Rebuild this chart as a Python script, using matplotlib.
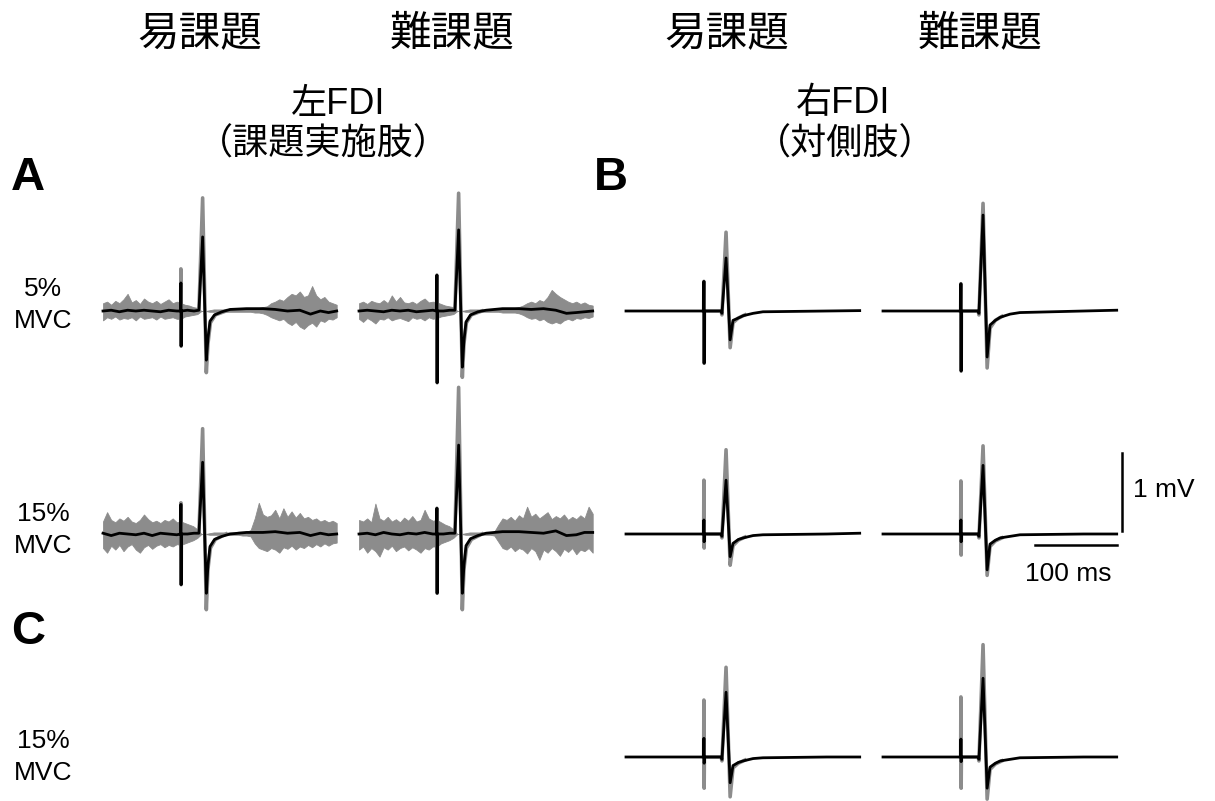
import numpy as np
import matplotlib.pyplot as plt

plt.rcParams['font.family'] = ['Liberation Sans', 'Noto Sans CJK JP']

# time axis of every sweep (ms, stimulus at 0)
T0, T1 = -95, 190
noise_t = np.arange(-95, 191, 5)

# ---- panel A: left FDI (mV), black = mean, grey = single trials ----
a_mean_t = [-95, -85, -75, -65, -55, -45, -35, -25, -15, -5, -0.3, 0, 0.3, 0.6, 8, 16, 22,
            26.5, 31, 33, 35.5, 41, 50, 60, 80, 100, 115, 130, 145, 158, 170, 180, 190]
a5e_mean = [0, 0.01, -0.01, 0.01, 0, 0.01, 0, -0.01, 0.01, 0, 0, 0.36, -0.45, 0, 0.01, 0, 0.01,
            0.95, -0.63, -0.35, -0.13, -0.05, -0.01, 0.02, 0.03, 0.03, 0.02, 0, 0.01, -0.04, 0, -0.02, 0]
a5h_mean = [0, 0.01, 0, -0.01, 0.01, 0, 0.01, -0.01, 0, 0.01, 0, 0.46, -0.92, 0, 0, 0.01, 0.01,
            1.04, -0.72, -0.38, -0.14, -0.05, -0.01, 0.01, 0.03, 0.03, 0.02, 0.03, 0.01, -0.03, -0.02, -0.01, 0]
a15e_mean = [0.01, -0.02, 0.01, 0, -0.01, 0.01, -0.02, 0.01, 0, -0.01, 0, 0.38, -0.65, 0, 0, 0.01, 0.01,
             0.92, -0.76, -0.40, -0.16, -0.07, -0.03, 0, 0.02, 0.02, 0.03, 0.01, 0.02, -0.02, 0.01, -0.01, 0]
a15h_mean = [0, 0.01, -0.01, 0.02, 0, -0.01, 0.01, 0, 0.02, 0, 0, 0.33, -0.76, 0, 0, 0.01, 0.01,
             1.14, -0.76, -0.40, -0.15, -0.06, -0.02, 0.01, 0.03, 0.03, 0.02, 0.01, 0.04, -0.02, -0.01, 0.02, 0.02]

a_gray_t = [-0.3, 0, 0.3, 0.6, 20, 22, 26.5, 31, 33, 36, 42, 55]
a5e_gray = [0, 0.54, -0.45, 0, 0, 0.02, 1.45, -0.79, -0.42, -0.15, -0.05, 0]
a5h_gray = [0, 0.46, -0.92, 0, 0, 0.02, 1.51, -0.85, -0.42, -0.15, -0.05, 0]
a15e_gray = [0, 0.40, -0.65, 0, 0, 0.02, 1.35, -0.97, -0.45, -0.18, -0.07, 0]
a15h_gray = [0, 0.33, -0.76, 0, 0, 0.02, 1.88, -0.97, -0.45, -0.18, -0.07, 0]

# upper / lower edge of the grey trial band (background EMG), on noise_t
a5e_up = [0.10, 0.12, 0.08, 0.13, 0.10, 0.15, 0.22, 0.11, 0.14, 0.09, 0.16, 0.12, 0.10, 0.13, 0.09, 0.12, 0.15, 0.10, 0.12,
          0.10, 0.08, 0.07, 0.05, 0.04,
          0, 0, 0.01, 0.02, 0.02, 0.02, 0.02, 0.02, 0.02, 0.03, 0.03, 0.03, 0.03, 0.04, 0.04, 0.05,
          0.06, 0.10, 0.12, 0.15, 0.13, 0.18, 0.22, 0.20, 0.25, 0.18, 0.20, 0.32, 0.20, 0.15, 0.18, 0.12, 0.10, 0.08]
a5e_lo = [-0.12, -0.08, -0.10, -0.07, -0.11, -0.09, -0.10, -0.08, -0.12, -0.07, -0.10, -0.09, -0.08, -0.11, -0.07, -0.10, -0.09, -0.08, -0.10,
          -0.10, -0.07, -0.06, -0.05, -0.04,
          0, 0, -0.01, -0.01, -0.01, -0.01, -0.01, -0.01, -0.01, -0.01, -0.01, -0.01, -0.01, -0.02, -0.02, -0.03,
          -0.05, -0.08, -0.10, -0.12, -0.10, -0.15, -0.18, -0.14, -0.20, -0.23, -0.18, -0.15, -0.20, -0.12, -0.14, -0.10, -0.11, -0.08]
a5h_up = [0.10, 0.12, 0.09, 0.13, 0.11, 0.10, 0.14, 0.10, 0.20, 0.12, 0.18, 0.11, 0.10, 0.12, 0.09, 0.13, 0.16, 0.11, 0.12,
          0.11, 0.09, 0.07, 0.06, 0.05,
          0, 0, 0.01, 0.02, 0.02, 0.02, 0.02, 0.02, 0.02, 0.02, 0.03, 0.03, 0.03, 0.03, 0.04, 0.05,
          0.07, 0.10, 0.12, 0.10, 0.14, 0.12, 0.18, 0.27, 0.22, 0.18, 0.15, 0.12, 0.10, 0.12, 0.09, 0.11, 0.08, 0.07]
a5h_lo = [-0.10, -0.14, -0.09, -0.12, -0.16, -0.10, -0.11, -0.08, -0.12, -0.10, -0.09, -0.11, -0.13, -0.08, -0.10, -0.09, -0.12, -0.08, -0.10,
          -0.09, -0.07, -0.06, -0.05, -0.04,
          0, 0, -0.01, -0.01, -0.01, -0.01, -0.01, -0.01, -0.01, -0.01, -0.01, -0.02, -0.02, -0.02, -0.02, -0.03,
          -0.05, -0.08, -0.10, -0.09, -0.12, -0.10, -0.14, -0.16, -0.14, -0.16, -0.12, -0.10, -0.12, -0.09, -0.10, -0.08, -0.09, -0.07]
a15e_up = [0.16, 0.28, 0.18, 0.15, 0.20, 0.17, 0.22, 0.16, 0.14, 0.18, 0.25, 0.19, 0.15, 0.17, 0.14, 0.18, 0.16, 0.20, 0.15,
           0.16, 0.14, 0.12, 0.10, 0.06,
           0, 0, 0.01, 0.02, 0.02, 0.02, 0.02, 0.02, 0.02, 0.03, 0.03, 0.03, 0.05, 0.20, 0.40, 0.25,
           0.22, 0.24, 0.31, 0.20, 0.33, 0.22, 0.29, 0.21, 0.27, 0.20, 0.22, 0.18, 0.20, 0.16, 0.18, 0.15, 0.17, 0.14]
a15e_lo = [-0.18, -0.24, -0.15, -0.20, -0.14, -0.22, -0.16, -0.13, -0.20, -0.24, -0.17, -0.14, -0.19, -0.15, -0.13, -0.17, -0.14, -0.16, -0.13,
           -0.14, -0.12, -0.10, -0.08, -0.05,
           0, 0, -0.01, -0.01, -0.01, -0.01, -0.01, -0.01, -0.01, -0.01, -0.02, -0.02, -0.03, -0.12, -0.18, -0.20,
           -0.22, -0.18, -0.20, -0.24, -0.17, -0.19, -0.15, -0.20, -0.16, -0.18, -0.14, -0.17, -0.13, -0.16, -0.12, -0.15, -0.12, -0.11]
a15h_up = [0.18, 0.16, 0.20, 0.15, 0.39, 0.20, 0.17, 0.22, 0.16, 0.19, 0.15, 0.21, 0.17, 0.23, 0.16, 0.18, 0.31, 0.20, 0.17,
           0.18, 0.15, 0.12, 0.10, 0.06,
           0, 0, 0.01, 0.02, 0.02, 0.02, 0.02, 0.02, 0.02, 0.03, 0.12, 0.20, 0.18, 0.22, 0.17, 0.24,
           0.20, 0.35, 0.22, 0.26, 0.20, 0.24, 0.28, 0.19, 0.23, 0.20, 0.25, 0.18, 0.22, 0.19, 0.24, 0.20, 0.35, 0.26]
a15h_lo = [-0.20, -0.16, -0.24, -0.18, -0.22, -0.29, -0.17, -0.20, -0.15, -0.22, -0.18, -0.16, -0.21, -0.17, -0.20, -0.24, -0.18, -0.20, -0.16,
           -0.16, -0.12, -0.10, -0.08, -0.05,
           0, 0, -0.01, -0.01, -0.01, -0.01, -0.01, -0.01, -0.01, -0.02, -0.10, -0.18, -0.20, -0.16, -0.22, -0.18,
           -0.20, -0.25, -0.18, -0.22, -0.33, -0.20, -0.24, -0.18, -0.22, -0.28, -0.19, -0.23, -0.18, -0.26, -0.20, -0.22, -0.18, -0.24]

# ---- panels B and C: right FDI (mV) ----
bc_mean_t = [-95, -0.3, 0, 0.3, 0.6, 21, 22, 27, 32, 35.5, 42, 48, 60, 72, 150, 190]
b5e_mean = [0, 0, 0.38, -0.67, 0, 0, -0.03, 0.68, -0.37, -0.12, -0.09, -0.06, -0.03, -0.01, 0, 0.005]
b5h_mean = [0, 0, 0.35, -0.77, 0, 0, -0.03, 1.23, -0.59, -0.18, -0.12, -0.08, -0.04, -0.02, 0, 0.01]
b15e_mean = [0, 0, 0.18, -0.10, 0, 0, -0.03, 0.69, -0.29, -0.12, -0.07, -0.05, -0.02, -0.01, 0, 0.01]
b15h_mean = [0, 0, 0.18, -0.10, 0, 0, -0.03, 0.88, -0.46, -0.13, -0.08, -0.05, -0.03, -0.01, 0, 0]
c15e_mean = [0, 0, 0.24, -0.08, 0, 0, -0.03, 0.83, -0.33, -0.11, -0.07, -0.05, -0.02, -0.01, 0, 0]
c15h_mean = [0, 0, 0.23, -0.06, 0, 0, -0.03, 1.01, -0.40, -0.13, -0.08, -0.05, -0.03, -0.01, 0, 0]

bc_gray_t = [-0.3, 0, 0.3, 0.6, 21, 22, 27, 32, 35.5, 42, 50]
b5e_gray = [0, 0.38, -0.67, 0, 0, -0.05, 1.01, -0.47, -0.15, -0.09, -0.05]
b5h_gray = [0, 0.35, -0.77, 0, 0, -0.05, 1.38, -0.73, -0.22, -0.12, -0.07]
b15e_gray = [0, 0.69, -0.18, 0, 0, -0.05, 1.08, -0.40, -0.15, -0.08, -0.04]
b15h_gray = [0, 0.68, -0.27, 0, 0, -0.05, 1.13, -0.53, -0.16, -0.09, -0.05]
c15e_gray = [0, 0.73, -0.40, 0, 0, -0.05, 1.15, -0.51, -0.14, -0.08, -0.04]
c15h_gray = [0, 0.77, -0.40, 0, 0, -0.05, 1.44, -0.54, -0.16, -0.09, -0.05]

conditions = ['易課題', '難課題', '易課題', '難課題']
force_labels = ['5%\nMVC', '15%\nMVC', '15%\nMVC']

# layout (pixels of the 1215x801 figure)
W, H = 1215, 801
PX_MS = 0.82
PX_MV = 78.0
col_x = [103, 359, 626, 883]
row_y = [311, 534, 757]

fig = plt.figure(figsize=(12.15, 8.01), dpi=100)


def trace_axes(x0, base):
    above, below = 175, 110
    w = (T1 - T0) * PX_MS
    ax = fig.add_axes([x0 / W, 1 - (base + below) / H, w / W, (above + below) / H])
    ax.set_xlim(T0, T1)
    ax.set_ylim(-below / PX_MV, above / PX_MV)
    ax.axis('off')
    return ax


def draw(ax, mt, mv, gt, gv, up=None, lo=None):
    if up is not None:
        ax.fill_between(noise_t, up, lo, color='#8c8c8c', lw=0.6, clip_on=False, zorder=1)
    ax.plot(gt, gv, color='#8c8c8c', lw=2.6, clip_on=False, zorder=2)
    ax.plot(mt, mv, color='black', lw=2.0, clip_on=False, zorder=3)


sweeps = [
    (0, 0, a_mean_t, a5e_mean, a_gray_t, a5e_gray, a5e_up, a5e_lo),
    (1, 0, a_mean_t, a5h_mean, a_gray_t, a5h_gray, a5h_up, a5h_lo),
    (0, 1, a_mean_t, a15e_mean, a_gray_t, a15e_gray, a15e_up, a15e_lo),
    (1, 1, a_mean_t, a15h_mean, a_gray_t, a15h_gray, a15h_up, a15h_lo),
    (2, 0, bc_mean_t, b5e_mean, bc_gray_t, b5e_gray, None, None),
    (3, 0, bc_mean_t, b5h_mean, bc_gray_t, b5h_gray, None, None),
    (2, 1, bc_mean_t, b15e_mean, bc_gray_t, b15e_gray, None, None),
    (3, 1, bc_mean_t, b15h_mean, bc_gray_t, b15h_gray, None, None),
    (2, 2, bc_mean_t, c15e_mean, bc_gray_t, c15e_gray, None, None),
    (3, 2, bc_mean_t, c15h_mean, bc_gray_t, c15h_gray, None, None),
]

axes = {}
for c, r, mt, mv, gt, gv, up, lo in sweeps:
    ax = trace_axes(col_x[c], row_y[r])
    draw(ax, mt, mv, gt, gv, up, lo)
    axes[(c, r)] = ax

# scale bars: 100 ms, 1 mV
sb = axes[(3, 1)]
sb.plot([90, 190], [-0.14, -0.14], color='black', lw=1.8, clip_on=False)
sb.plot([196, 196], [0.04, 1.04], color='black', lw=1.8, clip_on=False)
fig.text(1133 / W, 1 - 490 / H, '1 mV', fontsize=19, ha='left', va='center')
fig.text(1068 / W, 1 - 574 / H, '100 ms', fontsize=19, ha='center', va='center')

# headings
for x, lab in zip([200, 452, 727, 980], conditions):
    fig.text(x / W, 1 - 35 / H, lab, fontsize=30, ha='center', va='center')
fig.text(338 / W, 1 - 104 / H, '左FDI', fontsize=26, ha='center', va='center')
fig.text(323 / W, 1 - 145 / H, '（課題実施肢）', fontsize=26, ha='center', va='center')
fig.text(843 / W, 1 - 104 / H, '右FDI', fontsize=26, ha='center', va='center')
fig.text(845 / W, 1 - 145 / H, '（対側肢）', fontsize=26, ha='center', va='center')

for x, y, lab in [(28, 178, 'A'), (611, 178, 'B'), (28, 632, 'C')]:
    fig.text(x / W, 1 - y / H, lab, fontsize=34, fontweight='bold', ha='center', va='center')

for y, lab in zip([305, 530, 757], force_labels):
    fig.text(43 / W, 1 - y / H, lab, fontsize=19, ha='center', va='center', linespacing=1.45)

fig.savefig('out.png', dpi=100)
